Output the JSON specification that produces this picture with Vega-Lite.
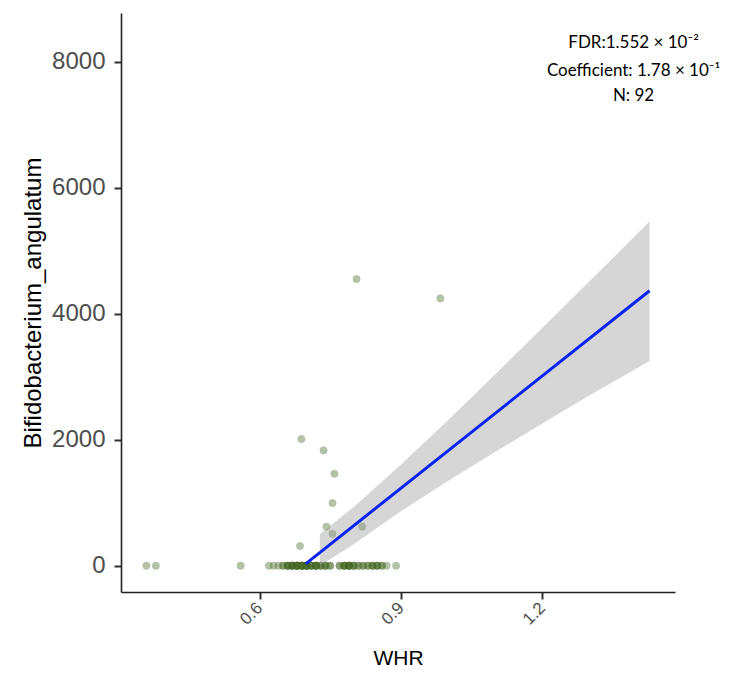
{
  "$schema": "https://vega.github.io/schema/vega-lite/v6.json",
  "autosize": "none",
  "width": 554,
  "height": 579,
  "padding": {"left": 121, "top": 13, "right": 54, "bottom": 86},
  "background": "white",
  "config": {
    "view": {"stroke": null},
    "axis": {"grid": false, "domainColor": "#222222", "domainWidth": 1.6, "tickColor": "#333333", "tickWidth": 2, "tickSize": 7, "labelColor": "#4D4D4D", "labelFont": "Liberation Sans", "titleFont": "Liberation Sans", "titleColor": "#000000", "titleFontWeight": "normal"}
  },
  "datasets": {
    "points": [
      {"WHR": 0.689, "value": 2011}, {"WHR": 0.736, "value": 1830}, {"WHR": 0.759, "value": 1460},
      {"WHR": 0.755, "value": 995}, {"WHR": 0.742, "value": 619}, {"WHR": 0.755, "value": 508},
      {"WHR": 0.818, "value": 619}, {"WHR": 0.686, "value": 313}, {"WHR": 0.806, "value": 4551},
      {"WHR": 0.984, "value": 4243},
      {"WHR": 0.36, "value": 0}, {"WHR": 0.38, "value": 0}, {"WHR": 0.56, "value": 0},
      {"WHR": 0.62, "value": 0}, {"WHR": 0.63, "value": 0}, {"WHR": 0.64, "value": 0},
      {"WHR": 0.65, "value": 0}, {"WHR": 0.65, "value": 0},
      {"WHR": 0.66, "value": 0}, {"WHR": 0.66, "value": 0}, {"WHR": 0.66, "value": 0}, {"WHR": 0.66, "value": 0},
      {"WHR": 0.67, "value": 0}, {"WHR": 0.67, "value": 0}, {"WHR": 0.67, "value": 0}, {"WHR": 0.67, "value": 0}, {"WHR": 0.67, "value": 0},
      {"WHR": 0.68, "value": 0}, {"WHR": 0.68, "value": 0}, {"WHR": 0.68, "value": 0}, {"WHR": 0.68, "value": 0}, {"WHR": 0.68, "value": 0}, {"WHR": 0.68, "value": 0},
      {"WHR": 0.69, "value": 0}, {"WHR": 0.69, "value": 0}, {"WHR": 0.69, "value": 0}, {"WHR": 0.69, "value": 0}, {"WHR": 0.69, "value": 0}, {"WHR": 0.69, "value": 0},
      {"WHR": 0.70, "value": 0}, {"WHR": 0.70, "value": 0}, {"WHR": 0.70, "value": 0}, {"WHR": 0.70, "value": 0}, {"WHR": 0.70, "value": 0}, {"WHR": 0.70, "value": 0},
      {"WHR": 0.71, "value": 0}, {"WHR": 0.71, "value": 0}, {"WHR": 0.71, "value": 0}, {"WHR": 0.71, "value": 0},
      {"WHR": 0.72, "value": 0}, {"WHR": 0.72, "value": 0}, {"WHR": 0.72, "value": 0}, {"WHR": 0.72, "value": 0}, {"WHR": 0.72, "value": 0},
      {"WHR": 0.73, "value": 0}, {"WHR": 0.73, "value": 0}, {"WHR": 0.73, "value": 0},
      {"WHR": 0.74, "value": 0}, {"WHR": 0.74, "value": 0}, {"WHR": 0.74, "value": 0},
      {"WHR": 0.75, "value": 0}, {"WHR": 0.75, "value": 0},
      {"WHR": 0.77, "value": 0}, {"WHR": 0.77, "value": 0},
      {"WHR": 0.78, "value": 0}, {"WHR": 0.78, "value": 0}, {"WHR": 0.78, "value": 0}, {"WHR": 0.78, "value": 0},
      {"WHR": 0.79, "value": 0}, {"WHR": 0.79, "value": 0}, {"WHR": 0.79, "value": 0}, {"WHR": 0.79, "value": 0}, {"WHR": 0.79, "value": 0},
      {"WHR": 0.80, "value": 0}, {"WHR": 0.80, "value": 0}, {"WHR": 0.80, "value": 0},
      {"WHR": 0.81, "value": 0}, {"WHR": 0.81, "value": 0},
      {"WHR": 0.82, "value": 0}, {"WHR": 0.82, "value": 0},
      {"WHR": 0.83, "value": 0}, {"WHR": 0.83, "value": 0},
      {"WHR": 0.84, "value": 0}, {"WHR": 0.84, "value": 0}, {"WHR": 0.84, "value": 0},
      {"WHR": 0.85, "value": 0}, {"WHR": 0.85, "value": 0}, {"WHR": 0.85, "value": 0},
      {"WHR": 0.86, "value": 0}, {"WHR": 0.86, "value": 0},
      {"WHR": 0.87, "value": 0}, {"WHR": 0.89, "value": 0}
    ],
    "band": [
      {"WHR": 0.728, "lo": 0, "hi": 500},
      {"WHR": 0.8, "lo": 342, "hi": 934},
      {"WHR": 0.9, "lo": 863, "hi": 1601},
      {"WHR": 1.0, "lo": 1343, "hi": 2309},
      {"WHR": 1.1, "lo": 1804, "hi": 3036},
      {"WHR": 1.2, "lo": 2256, "hi": 3772},
      {"WHR": 1.3, "lo": 2703, "hi": 4511},
      {"WHR": 1.428, "lo": 3250, "hi": 5463}
    ],
    "fit": [
      {"WHR": 0.698, "value": 30},
      {"WHR": 1.428, "value": 4365}
    ],
    "labels": [
      {"WHR": 1.394, "value": 8217, "text": "FDR:1.552 × 10⁻²"},
      {"WHR": 1.394, "value": 7767, "text": "Coefficient: 1.78 × 10⁻¹"},
      {"WHR": 1.394, "value": 7370, "text": "N: 92"}
    ]
  },
  "layer": [
    {
      "data": {"name": "points"},
      "mark": {"type": "point", "shape": "circle", "filled": true, "size": 52, "color": "#466B25", "opacity": 0.4, "stroke": "#3d5e20", "strokeWidth": 0.7},
      "encoding": {
        "x": {"field": "WHR", "type": "quantitative", "scale": {"domain": [0.306, 1.482], "nice": false, "zero": false},
              "axis": {"values": [0.6, 0.9, 1.2], "format": ".1f", "labelAngle": -45, "labelAlign": "right", "labelBaseline": "middle", "labelPadding": 6, "labelFontSize": 17, "title": "WHR", "titleFontSize": 21, "titlePadding": 20}},
        "y": {"field": "value", "type": "quantitative", "scale": {"domain": [-417, 8773], "nice": false, "zero": false},
              "axis": {"values": [0, 2000, 4000, 6000, 8000], "format": "d", "labelFontSize": 24, "labelPadding": 9, "title": "Bifidobacterium_angulatum", "titleFontSize": 24, "titlePadding": 6}}
      }
    },
    {
      "data": {"name": "band"},
      "mark": {"type": "area", "color": "#999999", "opacity": 0.4},
      "encoding": {
        "x": {"field": "WHR", "type": "quantitative"},
        "y": {"field": "lo", "type": "quantitative"},
        "y2": {"field": "hi"}
      }
    },
    {
      "data": {"name": "fit"},
      "mark": {"type": "line", "color": "#0A22F0", "strokeWidth": 3},
      "encoding": {
        "x": {"field": "WHR", "type": "quantitative"},
        "y": {"field": "value", "type": "quantitative"}
      }
    },
    {
      "data": {"name": "labels"},
      "mark": {"type": "text", "font": "Lato", "fontSize": 17, "align": "center", "baseline": "alphabetic", "color": "#000000"},
      "encoding": {
        "x": {"field": "WHR", "type": "quantitative"},
        "y": {"field": "value", "type": "quantitative"},
        "text": {"field": "text"}
      }
    }
  ]
}
